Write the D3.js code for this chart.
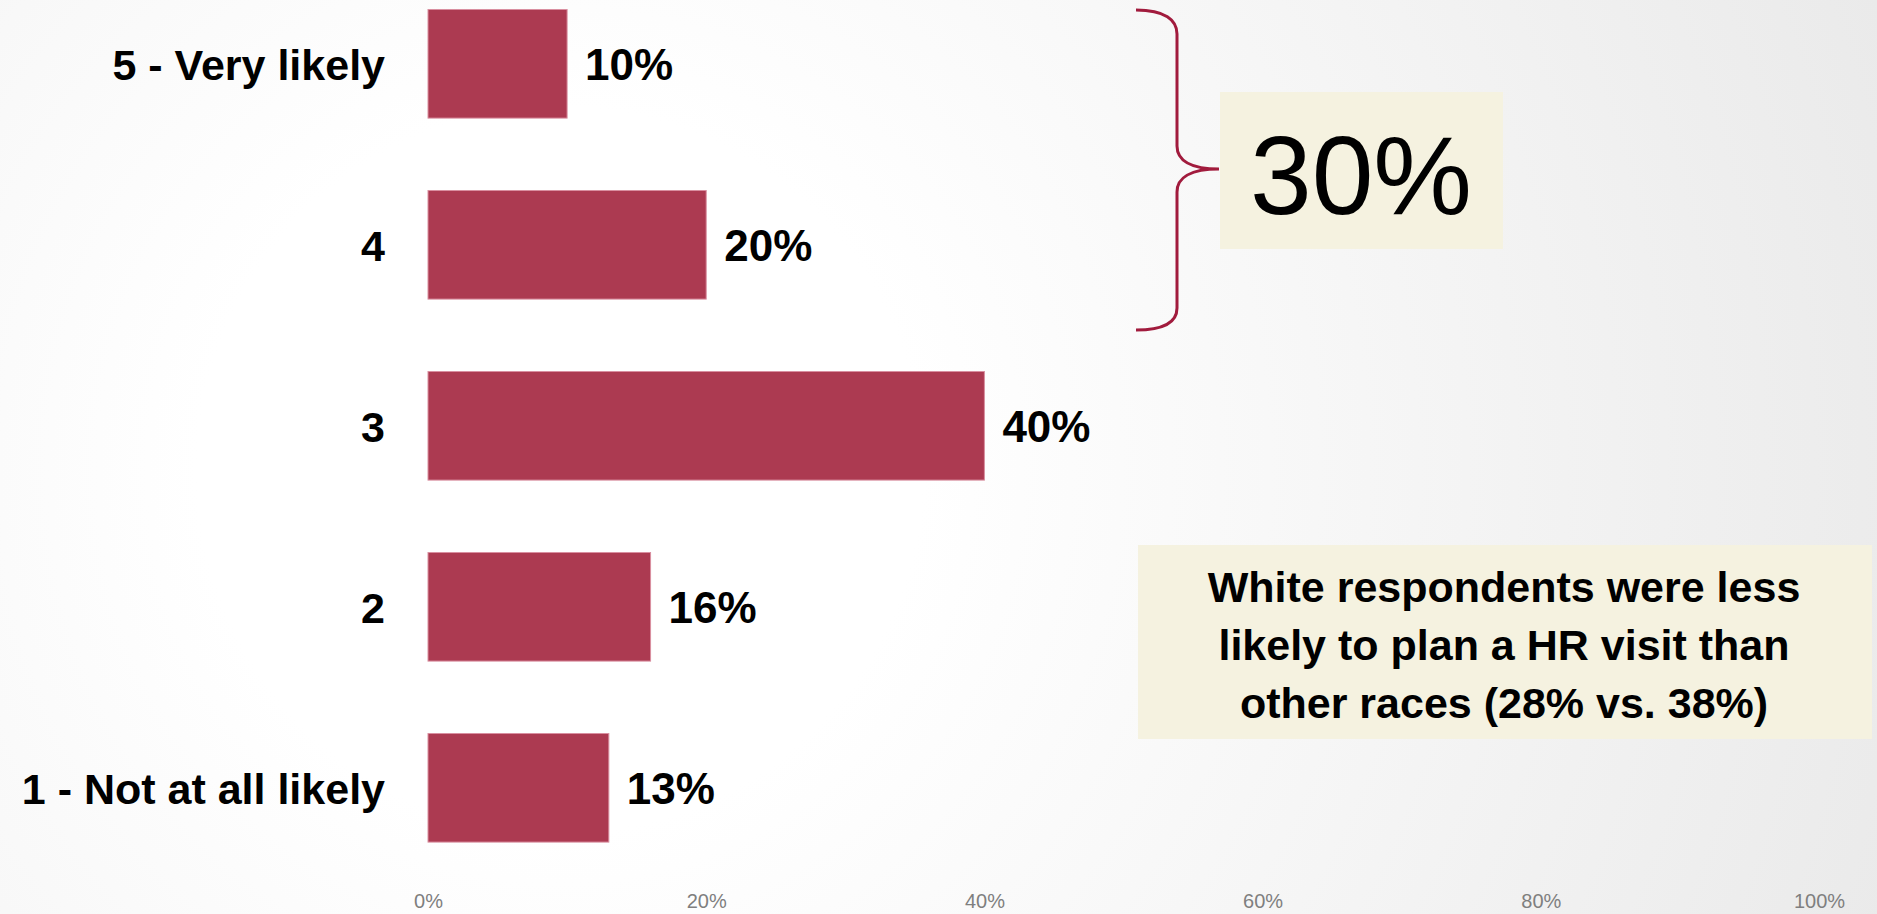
<!DOCTYPE html>
<html>
<head>
<meta charset="utf-8">
<script src="https://cdn.jsdelivr.net/npm/d3@7"></script>
<style>
  html, body { margin: 0; padding: 0; overflow: hidden; }
  svg { display: block; }
</style>
</head>
<body>
<svg id="chart" width="1877" height="914"></svg>
<script>
// Likelihood of planning an HR visit, share of respondents
const categories = ["5 - Very likely", "4", "3", "2", "1 - Not at all likely"];
const values = [10, 20, 40, 16, 13];
const tickValues = [0, 20, 40, 60, 80, 100];
const topTwoBox = "30%";
const noteLines = [
  "White respondents were less",
  "likely to plan a HR visit than",
  "other races (28% vs. 38%)"
];

const W = 1877, H = 914;
const svg = d3.select("#chart");
const font = "'Liberation Sans', Arial, sans-serif";

// soft radial backdrop
const defs = svg.append("defs");
const grad = defs.append("radialGradient")
  .attr("id", "bg")
  .attr("gradientUnits", "userSpaceOnUse")
  .attr("cx", 560).attr("cy", 470).attr("r", 1450);
grad.append("stop").attr("offset", 0.25).attr("stop-color", "#ffffff");
grad.append("stop").attr("offset", 1).attr("stop-color", "#e9e9e9");
svg.append("rect").attr("width", W).attr("height", H).attr("fill", "url(#bg)");

const x = d3.scaleLinear().domain([0, 100]).range([428, 1819]);
const y = d3.scaleBand().domain(categories)
  .range([-26.7, 878.3]).paddingInner(0.4).paddingOuter(0.2);

// bars
svg.append("g").selectAll("rect")
  .data(values)
  .join("rect")
  .attr("x", x(0))
  .attr("y", (d, i) => y(categories[i]))
  .attr("width", d => x(d) - x(0))
  .attr("height", y.bandwidth())
  .attr("fill", "#ac3a51")
  .attr("stroke", "#d98fa0")
  .attr("stroke-width", 1);

// value labels
svg.append("g").selectAll("text")
  .data(values)
  .join("text")
  .attr("x", d => x(d) + 18)
  .attr("y", (d, i) => y(categories[i]) + y.bandwidth() / 2 + 16)
  .attr("font-family", font)
  .attr("font-weight", "bold")
  .attr("font-size", 44)
  .attr("fill", "#000")
  .text(d => d + "%");

// category axis labels
svg.append("g").selectAll("text")
  .data(categories)
  .join("text")
  .attr("x", 385)
  .attr("y", d => y(d) + y.bandwidth() / 2 + 16)
  .attr("text-anchor", "end")
  .attr("font-family", font)
  .attr("font-weight", "bold")
  .attr("font-size", 43)
  .attr("fill", "#000")
  .text(d => d);

// bottom percentage axis (labels only)
const xAxis = d3.axisBottom(x)
  .tickValues(tickValues)
  .tickFormat(d => d + "%")
  .tickSize(0)
  .tickPadding(0);
const gx = svg.append("g").attr("transform", "translate(0,893)").call(xAxis);
gx.select(".domain").remove();
gx.selectAll("text")
  .attr("font-family", font)
  .attr("font-size", 20)
  .attr("fill", "#7f7f7f")
  .attr("dy", "0.74em");

// brace grouping the top two answers
svg.append("path")
  .attr("d", "M1136,10 C1165,10 1177,20 1177,34 L1177,146 C1177,160 1190,169 1219,169 " +
             "C1190,169 1177,178 1177,192 L1177,308 C1177,322 1165,330 1136,330")
  .attr("fill", "none")
  .attr("stroke", "#a11b3d")
  .attr("stroke-width", 3);

// top-two box callout
svg.append("rect")
  .attr("x", 1220).attr("y", 92).attr("width", 283).attr("height", 157)
  .attr("fill", "#f5f2e0");
svg.append("text")
  .attr("x", 1361).attr("y", 214)
  .attr("text-anchor", "middle")
  .attr("font-family", font)
  .attr("font-size", 111)
  .attr("fill", "#000")
  .text(topTwoBox);

// note box
svg.append("rect")
  .attr("x", 1138).attr("y", 545).attr("width", 734).attr("height", 194)
  .attr("fill", "#f5f2e0");
svg.append("g").selectAll("text")
  .data(noteLines)
  .join("text")
  .attr("x", 1504)
  .attr("y", (d, i) => 602 + i * 58)
  .attr("text-anchor", "middle")
  .attr("font-family", font)
  .attr("font-weight", "bold")
  .attr("font-size", 43)
  .attr("fill", "#000")
  .text(d => d);
</script>
</body>
</html>
